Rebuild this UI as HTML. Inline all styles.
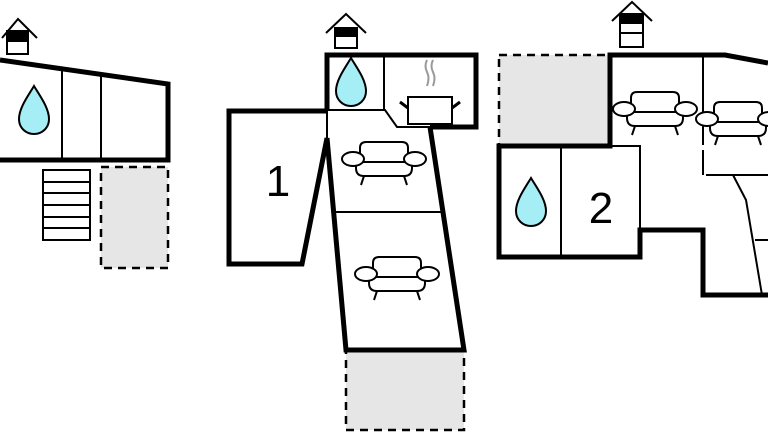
<!DOCTYPE html>
<html><head><style>html,body{margin:0;padding:0;background:#fff}svg{display:block}</style></head><body>
<svg width="768" height="432" viewBox="0 0 768 432" xmlns="http://www.w3.org/2000/svg">
<defs>
<g id="sofa" fill="#fff" stroke="#000" stroke-width="2">
<path d="M-24 6 V-14 Q-24 -20 -18 -20 H18 Q24 -20 24 -14 V6"/>
<path d="M-28 0 H28 V6 Q28 14 20 14 H-20 Q-28 14 -28 6 Z"/>
<ellipse cx="-31" cy="-3" rx="11" ry="7"/>
<ellipse cx="31" cy="-3" rx="11" ry="7"/>
<path d="M-20 14 L-23 23 M20 14 L23 23" fill="none"/>
</g>
<path id="drop" d="M0 -27 C-6 -17 -15 -5 -15 6 C-15 15 -8 21 0 21 C8 21 15 15 15 6 C15 -5 6 -17 0 -27Z" fill="#a6eef5" stroke="#000" stroke-width="2"/>
</defs>
<g fill="#e6e6e6" stroke="#000" stroke-width="2.5" stroke-dasharray="8,6">
<rect x="101" y="167" width="67" height="101"/>
<rect x="346" y="350" width="118" height="80"/>
<rect x="499" y="55" width="111" height="91"/>
</g>
<g fill="none" stroke="#000" stroke-linejoin="miter">
<path d="M0 60 L168 84 L168 160 L0 160" stroke-width="5"/>
<path d="M62 69 V160 M101 74 V160" stroke-width="2"/>
<rect x="43" y="170" width="47" height="70" stroke-width="2"/>
<path d="M43 182 H90 M43 193 H90 M43 205 H90 M43 217 H90 M43 228 H90" stroke-width="2"/>
<path d="M327 111 H229 V264 H302 L327 138" stroke-width="5"/>
<path d="M327 111 V138" stroke-width="2"/>
<path d="M327 111 V55 H476 V127 H430" stroke-width="5"/>
<path d="M327 138 L346 350 H464 L430 127" stroke-width="5"/>
<path d="M384 55 V110 M327 110 H385 L397 127 H430 M335 212 H441" stroke-width="2"/>
<rect x="408" y="97" width="44" height="27" fill="#fff" stroke-width="2"/>
<path d="M400 102 L408 108 M460 102 L452 108" stroke-width="3"/>
<path d="M427 60 q-3 6 0 12 q3 6 0 14 M433 60 q-3 6 0 12 q3 6 0 14" stroke="#999" stroke-width="2"/>
<path d="M768 63 L725 55 H610 V146 H499 V257 H640 V230 H703 V295 H768" stroke-width="5"/>
<path d="M610 146 H640 V230 M561 146 V257 M703 55 V145 M703 150 V175 M706 175 H768 M733 175 L746 200 L762 295 M755 240 H768" stroke-width="2"/>
</g>
<use href="#drop" x="34" y="113"/>
<use href="#drop" x="351" y="85"/>
<use href="#drop" x="531" y="205"/>
<use href="#sofa" x="384" y="162"/>
<use href="#sofa" x="397" y="277"/>
<use href="#sofa" x="655" y="112"/>
<use href="#sofa" x="738" y="122"/>
<text x="278" y="196" font-family="Liberation Sans, sans-serif" font-size="44" text-anchor="middle">1</text>
<text x="601" y="223" font-family="Liberation Sans, sans-serif" font-size="44" text-anchor="middle">2</text>
<g fill="none" stroke="#000" stroke-width="2">
<path d="M2 38 L18 19 L37 38"/><rect x="7" y="31" width="21" height="23" fill="#fff"/><rect x="7" y="31" width="21" height="10" fill="#000"/>
<path d="M326 33 L346 14 L366 33"/><rect x="335" y="28" width="22" height="20" fill="#fff"/><rect x="335" y="28" width="22" height="8" fill="#000"/>
<path d="M612 21 L632 2 L652 21"/><rect x="620" y="14" width="23" height="33" fill="#fff"/><rect x="620" y="14" width="23" height="9" fill="#000"/><path d="M620 33 H643"/>
</g>
</svg>
</body></html>
